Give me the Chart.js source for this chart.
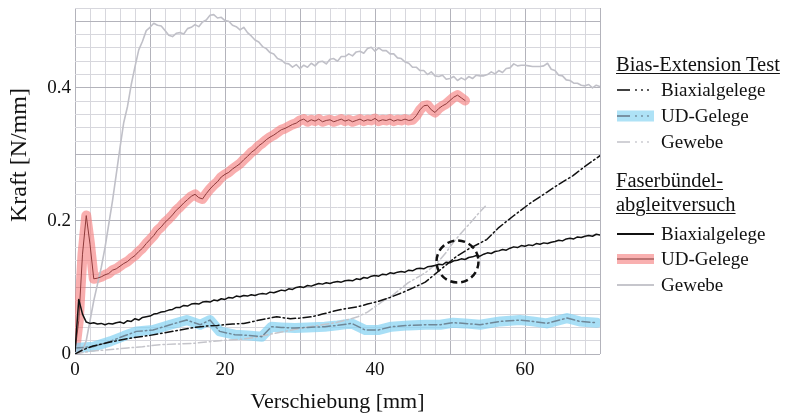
<!DOCTYPE html>
<html>
<head>
<meta charset="utf-8">
<script src="https://cdn.jsdelivr.net/npm/chart.js@4.4.1/dist/chart.umd.min.js"></script>
<style>
  body { margin: 0; background: #fff; }
  #wrap { position: relative; width: 785px; height: 416px; font-family: "Liberation Serif", serif; color: #111; }
  #chart { position: absolute; left: 0; top: 0; }
  .row { position: absolute; height: 24px; line-height: 24px; white-space: nowrap; }
  .head { left: 616px; font-size: 20.5px; text-decoration: underline; text-decoration-thickness: 1px; text-underline-offset: 2px; }
  .txt { left: 661px; font-size: 19px; }
  .smp { position: absolute; left: 616px; }
  #ytitle { position: absolute; left: 18px; top: 155px; font-size: 24px; white-space: nowrap;
            transform: translate(-50%, -50%) rotate(-90deg); line-height: 28px; }
</style>
</head>
<body>
<div id="wrap">
  <canvas id="chart" width="785" height="416"></canvas>
  <div id="ytitle">Kraft [N/mm]</div>

  <div class="row head" style="top:52px">Bias-Extension Test</div>
  <svg class="smp" style="top:82px" width="40" height="16">
    <line x1="1" y1="8" x2="14" y2="8" stroke="#111" stroke-width="1.6"/>
    <circle cx="20" cy="8" r="0.9" fill="#111"/><circle cx="26" cy="8" r="0.9" fill="#111"/><circle cx="32" cy="8" r="0.9" fill="#111"/>
  </svg>
  <div class="row txt" style="top:78px">Biaxialgelege</div>
  <svg class="smp" style="top:108px" width="40" height="16">
    <rect x="1" y="2.5" width="37" height="11" fill="#aee2f6"/>
    <line x1="1" y1="8" x2="14" y2="8" stroke="#72899a" stroke-width="1.8"/>
    <circle cx="20" cy="8" r="0.9" fill="#72899a"/><circle cx="26" cy="8" r="0.9" fill="#72899a"/><circle cx="32" cy="8" r="0.9" fill="#72899a"/>
  </svg>
  <div class="row txt" style="top:104px">UD-Gelege</div>
  <svg class="smp" style="top:134px" width="40" height="16">
    <line x1="1" y1="8" x2="14" y2="8" stroke="#c6c6cc" stroke-width="1.6"/>
    <circle cx="20" cy="8" r="0.9" fill="#c6c6cc"/><circle cx="26" cy="8" r="0.9" fill="#c6c6cc"/><circle cx="32" cy="8" r="0.9" fill="#c6c6cc"/>
  </svg>
  <div class="row txt" style="top:130px">Gewebe</div>

  <div class="row head" style="top:168px">Faserbündel-</div>
  <div class="row head" style="top:192px">abgleitversuch</div>
  <svg class="smp" style="top:226px" width="40" height="16">
    <line x1="1" y1="8" x2="38" y2="8" stroke="#111" stroke-width="1.8"/>
  </svg>
  <div class="row txt" style="top:222px">Biaxialgelege</div>
  <svg class="smp" style="top:251px" width="40" height="16">
    <rect x="1" y="3" width="37" height="10" fill="#f9b0b0"/>
    <line x1="1" y1="8" x2="38" y2="8" stroke="#a86060" stroke-width="1.6"/>
  </svg>
  <div class="row txt" style="top:247px">UD-Gelege</div>
  <svg class="smp" style="top:277px" width="40" height="16">
    <line x1="1" y1="8" x2="38" y2="8" stroke="#c6c6cc" stroke-width="1.8"/>
  </svg>
  <div class="row txt" style="top:273px">Gewebe</div>
</div>

<script>
// x positions of the densely sampled test curves (mm)
const xFine = [0,0.5,1,1.5,2,2.5,3,3.5,4,4.5,5,5.5,6,6.5,7,7.5,8,8.5,9,9.5,
  10,10.5,11,11.5,12,12.5,13,13.5,14,14.5,15,15.5,16,16.5,17,17.5,18,18.5,19,19.5,
  20,20.5,21,21.5,22,22.5,23,23.5,24,24.5,25,25.5,26,26.5,27,27.5,28,28.5,29,29.5,
  30,30.5,31,31.5,32,32.5,33,33.5,34,34.5,35,35.5,36,36.5,37,37.5,38,38.5,39,39.5,
  40,40.5,41,41.5,42,42.5,43,43.5,44,44.5,45,45.5,46,46.5,47,47.5,48,48.5,49,49.5,
  50,50.5,51,51.5,52,52.5,53,53.5,54,54.5,55,55.5,56,56.5,57,57.5,58,58.5,59,59.5,
  60,60.5,61,61.5,62,62.5,63,63.5,64,64.5,65,65.5,66,66.5,67,67.5,68,68.5,69,69.5,70];

// Faserbündelabgleitversuch (N/mm)
const fbBiax = [0.004,0.082,0.060,0.048,0.046,0.047,0.045,0.046,0.044,0.046,0.045,0.047,0.048,0.046,0.050,0.049,0.053,0.051,0.055,0.056,
  0.057,0.060,0.061,0.063,0.064,0.066,0.067,0.070,0.070,0.073,0.072,0.075,0.076,0.075,0.078,0.079,0.078,0.081,0.080,0.083,
  0.082,0.085,0.084,0.087,0.086,0.088,0.087,0.089,0.088,0.090,0.091,0.090,0.093,0.092,0.094,0.096,0.095,0.098,0.097,0.100,
  0.101,0.100,0.103,0.102,0.104,0.106,0.105,0.107,0.106,0.108,0.109,0.108,0.110,0.111,0.110,0.113,0.112,0.115,0.114,0.117,
  0.118,0.117,0.120,0.119,0.122,0.121,0.123,0.124,0.123,0.126,0.125,0.128,0.129,0.128,0.131,0.132,0.133,0.135,0.134,0.138,
  0.137,0.140,0.141,0.143,0.142,0.145,0.146,0.148,0.147,0.150,0.152,0.151,0.154,0.155,0.157,0.156,0.159,0.161,0.160,0.163,
  0.162,0.164,0.163,0.166,0.165,0.167,0.166,0.168,0.169,0.171,0.170,0.173,0.174,0.173,0.176,0.175,0.177,0.178,0.177,0.180,0.179];

const fbUD = [0.004,0.050,0.150,0.208,0.165,0.113,0.114,0.116,0.119,0.121,0.126,0.128,0.132,0.136,0.139,0.144,0.148,0.154,0.159,0.166,
  0.172,0.178,0.186,0.191,0.198,0.203,0.209,0.216,0.221,0.227,0.232,0.237,0.240,0.235,0.233,0.241,0.248,0.254,0.259,0.266,
  0.270,0.273,0.278,0.282,0.286,0.292,0.297,0.303,0.307,0.313,0.317,0.322,0.326,0.329,0.333,0.337,0.339,0.342,0.345,0.347,
  0.351,0.353,0.349,0.352,0.350,0.353,0.349,0.351,0.352,0.349,0.351,0.353,0.350,0.352,0.349,0.351,0.353,0.350,0.352,0.351,
  0.354,0.350,0.352,0.351,0.353,0.350,0.352,0.351,0.353,0.351,0.352,0.358,0.367,0.373,0.374,0.367,0.363,0.369,0.373,0.376,
  0.381,0.386,0.389,0.385,0.381];

const fbGewebe = [0.000,0.002,0.006,0.020,0.050,0.080,0.105,0.130,0.160,0.195,0.230,0.270,0.310,0.348,0.372,0.405,0.432,0.457,0.470,0.486,
  0.491,0.497,0.494,0.493,0.486,0.479,0.477,0.482,0.483,0.481,0.489,0.491,0.495,0.492,0.499,0.502,0.509,0.510,0.505,0.506,
  0.501,0.500,0.494,0.492,0.487,0.491,0.483,0.478,0.472,0.469,0.462,0.459,0.453,0.451,0.444,0.442,0.437,0.436,0.431,0.435,
  0.429,0.434,0.431,0.437,0.433,0.439,0.440,0.436,0.443,0.444,0.440,0.447,0.447,0.451,0.448,0.454,0.455,0.452,0.459,0.461,
  0.455,0.460,0.456,0.456,0.451,0.451,0.445,0.444,0.439,0.437,0.431,0.431,0.426,0.426,0.420,0.424,0.418,0.417,0.419,0.413,
  0.414,0.417,0.411,0.415,0.412,0.417,0.414,0.419,0.418,0.418,0.420,0.424,0.421,0.426,0.423,0.429,0.430,0.436,0.433,0.434,
  0.434,0.433,0.432,0.432,0.432,0.433,0.437,0.428,0.426,0.419,0.418,0.412,0.411,0.407,0.407,0.404,0.403,0.405,0.400,0.404,0.402];

// Bias-Extension Test
const beBiaxX = [0,1,2.4,4.7,7,8.7,10,12,14,16,17.6,19,21,22.5,23.8,25,26.9,28.7,30,31.6,33,34.7,36,37.7,39,40.4,42,43.6,45,46.7,48,49.5,50.9,52.5,54.9,56.5,58.4,60.5,62.9,64.5,66.4,68,70];
const beBiax  = [0,0.006,0.012,0.018,0.023,0.026,0.028,0.032,0.036,0.040,0.042,0.043,0.045,0.046,0.049,0.052,0.056,0.053,0.054,0.056,0.060,0.065,0.068,0.071,0.075,0.079,0.085,0.092,0.099,0.108,0.120,0.134,0.147,0.158,0.172,0.190,0.207,0.225,0.243,0.255,0.268,0.282,0.298];

const beUDX = [0,2.4,4.7,6.5,8.2,10.4,12.7,14.9,16.7,18,19.3,21.3,23,24.9,26.2,27.5,29.3,31,33.3,35,36.9,38.7,40.4,42.2,44.5,46.7,48.7,50.4,52,54,56.7,59.3,61,62.9,65.6,67.3,69.6];
const beUD  = [0.009,0.011,0.019,0.027,0.034,0.036,0.044,0.051,0.044,0.051,0.034,0.029,0.028,0.026,0.041,0.040,0.039,0.040,0.041,0.043,0.046,0.036,0.036,0.041,0.043,0.044,0.044,0.047,0.046,0.044,0.049,0.051,0.049,0.046,0.054,0.049,0.047];

const beGewebeX = [0,2,4,7,9,11.3,13.5,15.8,17.5,19.3,22,24,25.7,28,30.2,32.5,34.7,36.5,37.7,39,40,41,42.2,43.3,44.4,45.5,46.7,48,48.7,49.5,50.4,51.5,52.7,53.7,54.7];
const beGewebe  = [0,0.004,0.006,0.009,0.011,0.014,0.015,0.016,0.018,0.020,0.022,0.025,0.029,0.034,0.039,0.043,0.047,0.052,0.056,0.063,0.071,0.079,0.087,0.097,0.107,0.114,0.122,0.134,0.142,0.153,0.167,0.182,0.197,0.210,0.222];

// highlighted intersection (mm, N/mm)
const markX = 51;
const markY = 0.139;

function pts(xs, ys) {
  return ys.map((y, i) => ({ x: xs[i], y: y }));
}

const dashDot = [8, 3, 1.5, 3];

const circlePlugin = {
  id: 'markCircle',
  afterDatasetsDraw(chart) {
    const ctx = chart.ctx;
    const px = chart.scales.x.getPixelForValue(markX);
    const py = chart.scales.y.getPixelForValue(markY);
    ctx.save();
    ctx.beginPath();
    ctx.arc(px, py, 21, 0, Math.PI * 2);
    ctx.setLineDash([7, 4]);
    ctx.lineWidth = 2.5;
    ctx.strokeStyle = '#111';
    ctx.stroke();
    ctx.restore();
  }
};

const ctx = document.getElementById('chart').getContext('2d');
new Chart(ctx, {
  type: 'line',
  data: {
    datasets: [
      // glows
      { data: pts(xFine, fbUD), borderColor: 'rgba(245,125,125,0.62)', borderWidth: 10, order: 20 },
      { data: pts(beUDX, beUD), borderColor: 'rgba(135,210,242,0.72)', borderWidth: 10, order: 19 },
      // lines
      { data: pts(xFine, fbGewebe), borderColor: '#c0c0c8', borderWidth: 1.6, order: 9 },
      { data: pts(beGewebeX, beGewebe), borderColor: '#c4c4ca', borderWidth: 1.5, borderDash: dashDot, order: 8 },
      { data: pts(beUDX, beUD), borderColor: '#6f8797', borderWidth: 1.5, borderDash: dashDot, order: 7 },
      { data: pts(xFine, fbUD), borderColor: '#8e3a3a', borderWidth: 1, order: 6 },
      { data: pts(beBiaxX, beBiax), borderColor: '#111', borderWidth: 1.5, borderDash: dashDot, order: 5 },
      { data: pts(xFine, fbBiax), borderColor: '#111', borderWidth: 1.5, order: 4 }
    ]
  },
  options: {
    responsive: false,
    animation: false,
    layout: { padding: { left: 0, right: 185, top: 8, bottom: 0 } },
    elements: {
      point: { radius: 0 },
      line: { tension: 0, borderCapStyle: 'round', borderJoinStyle: 'round', fill: false }
    },
    plugins: { legend: { display: false }, tooltip: { enabled: false } },
    scales: {
      x: {
        type: 'linear',
        min: 0,
        max: 70,
        afterFit: s => { s.height = 62; s.paddingLeft = 0; s.paddingRight = 0; },
        border: { display: false },
        grid: {
          drawTicks: false,
          lineWidth: 1,
          color: c => (Math.round(c.tick.value) % 10 === 0 ? '#b3b3bb' : '#d7d7dd')
        },
        ticks: {
          stepSize: 2,
          autoSkip: false,
          maxRotation: 0,
          maxTicksLimit: 100,
          padding: 5,
          color: '#111',
          font: { family: 'Liberation Serif', size: 19 },
          callback: v => (Math.round(v) % 20 === 0 ? String(Math.round(v)) : '')
        },
        title: {
          display: true,
          text: 'Verschiebung [mm]',
          color: '#111',
          font: { family: 'Liberation Serif', size: 22 },
          padding: { top: 0, bottom: 1 }
        }
      },
      y: {
        type: 'linear',
        min: 0,
        max: 0.52,
        afterFit: s => { s.width = 75; s.paddingTop = 0; s.paddingBottom = 0; },
        border: { display: false },
        grid: {
          drawTicks: false,
          lineWidth: 1,
          color: c => (Math.round(c.tick.value * 100) % 10 === 0 ? '#b3b3bb' : '#d7d7dd')
        },
        ticks: {
          stepSize: 0.02,
          autoSkip: false,
          maxTicksLimit: 100,
          padding: 4,
          color: '#111',
          font: { family: 'Liberation Serif', size: 19 },
          callback: v => {
            const h = Math.round(v * 100);
            return h % 20 === 0 ? (h === 0 ? '0' : String(h / 100)) : '';
          }
        },
        title: { display: false }
      }
    }
  },
  plugins: [circlePlugin]
});
</script>
</body>
</html>
